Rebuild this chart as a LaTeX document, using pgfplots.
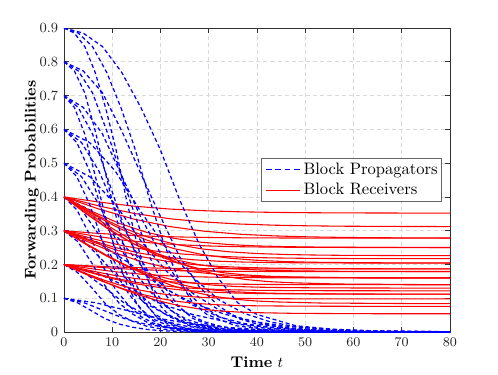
\documentclass[border=0pt]{standalone}
\usepackage{pgfplots}
\usepackage{pgfplotstable}
\pgfplotsset{compat=1.18}

% block propagators: three runs per start level, time columns ta/tb/tc
\pgfplotstableread{
ta     tb    tc    p1     p2     p3
0      0     0     0.1    0.2    0.3
6.67   4.21  2.86  0.0865 0.176  0.268
13.33  8.42  5.71  0.0631 0.132  0.206
20     12.63 8.57  0.0393 0.0843 0.136
26.67  16.84 11.43 0.0237 0.0519 0.0858
33.33  21.05 14.29 0.0142 0.0315 0.0528
40     25.26 17.14 0.0079 0.0175 0.0297
46.67  29.47 20    0.0043 0.0097 0.0165
53.33  33.68 22.86 0.0023 0.0052 0.0090
60     37.89 25.71 0.0012 0.0026 0.0045
66.67  42.11 28.57 0.0007 0.0015 0.0026
80     50.53 34.29 0.0002 0.0005 0.0009
93.33  58.95 40    0.0001 0.0002 0.0004
106.67 67.37 45.71 0      0.0001 0.0002
133.33 84.21 57.14 0      0      0
200    200   200   0      0      0
}\BA
\pgfplotstableread{
ta     tb    tc    p4     p5     p6
0      0     0     0.4    0.5    0.6
5.33   3.64  2.67  0.362  0.460  0.561
10.67  7.27  5.33  0.288  0.378  0.476
16     10.91 8     0.197  0.269  0.355
21.33  14.55 10.67 0.127  0.179  0.247
26.67  18.18 13.33 0.080  0.115  0.163
32     21.82 16    0.0454 0.0667 0.0967
37.33  25.45 18.67 0.0255 0.0377 0.0555
42.67  29.09 21.33 0.0139 0.0206 0.0306
48     32.73 24    0.0070 0.0105 0.0156
53.33  36.36 26.67 0.0041 0.0061 0.0091
64     43.64 32    0.0014 0.0021 0.0032
74.67  50.91 37.33 0.0006 0.0009 0.0014
85.33  58.18 42.67 0.0003 0.0004 0.0006
106.67 72.73 53.33 0.0001 0.0001 0.0002
200    200   200   0      0      0
}\BB
\pgfplotstableread{
ta  tb    tc    p7     p8     p9
0   0     0     0.7    0.8    0.9
4   2.96  2.16  0.665  0.773  0.885
8   5.93  4.32  0.586  0.708  0.845
12  8.89  6.49  0.462  0.595  0.768
16  11.85 8.65  0.338  0.467  0.663
20  14.81 10.81 0.233  0.342  0.539
24  17.78 12.97 0.143  0.222  0.391
28  20.74 15.14 0.0838 0.135  0.261
32  23.70 17.30 0.0469 0.0778 0.159
36  26.67 19.46 0.0241 0.0405 0.0868
40  29.63 21.62 0.0140 0.0238 0.052
48  35.56 25.95 0.0049 0.0085 0.0188
56  41.48 30.27 0.0021 0.0036 0.0081
64  47.41 34.59 0.0010 0.0016 0.0037
80  59.26 43.24 0.0002 0.0004 0.0009
200 200   200   0      0      0
}\BC

% block receivers (a: start 0.2, b: start 0.3, c: start 0.4)
\pgfplotstableread{
ta    tb    tc     a1     a2     a3     b1     b2     b3     c1     c2     c3
0     0     0      0.200  0.200  0.200  0.300  0.300  0.300  0.400  0.400  0.400
5.33  6.15  7.27   0.1959 0.1936 0.1882 0.2930 0.2847 0.2756 0.3848 0.3731 0.3641
10.67 12.31 14.55  0.1926 0.1883 0.1784 0.2874 0.2722 0.2552 0.3726 0.3511 0.3341
16    18.46 21.82  0.1903 0.1846 0.1713 0.2836 0.2634 0.2405 0.3642 0.3356 0.3125
21.33 24.62 29.09  0.1889 0.1823 0.1667 0.2813 0.2579 0.2309 0.3591 0.3258 0.2985
26.67 30.77 36.36  0.1881 0.1809 0.1638 0.2798 0.2545 0.2250 0.3560 0.3198 0.2897
32    36.92 43.64  0.1876 0.1800 0.1622 0.2790 0.2525 0.2215 0.3542 0.3163 0.2846
37.33 43.08 50.91  0.1873 0.1796 0.1612 0.2786 0.2514 0.2195 0.3532 0.3144 0.2817
42.67 49.23 58.18  0.1872 0.1793 0.1607 0.2783 0.2508 0.2184 0.3527 0.3133 0.2801
48    55.38 65.45  0.1871 0.1792 0.1604 0.2782 0.2505 0.2178 0.3524 0.3128 0.2792
53.33 61.54 72.73  0.1871 0.1791 0.1602 0.2781 0.2503 0.2175 0.3522 0.3124 0.2787
64    73.85 87.27  0.1870 0.1790 0.1601 0.2780 0.2501 0.2172 0.3521 0.3122 0.2782
85.33 98.46 116.36 0.187  0.179  0.160  0.278  0.250  0.217  0.352  0.312  0.278
200   200   200    0.187  0.179  0.160  0.278  0.250  0.217  0.352  0.312  0.278
}\RA
\pgfplotstableread{
ta  tb    tc    a4     a5     a6     b4     b5     b6     c4     c5     c6
0   0     0     0.200  0.200  0.200  0.300  0.300  0.300  0.400  0.400  0.400
5   5.33  5.71  0.1831 0.1793 0.1780 0.2730 0.2699 0.2650 0.3579 0.3537 0.3510
10  10.67 11.43 0.1688 0.1611 0.1584 0.2501 0.2436 0.2338 0.3220 0.3132 0.3073
15  16    17.14 0.1581 0.1471 0.1427 0.2329 0.2234 0.2089 0.2952 0.2820 0.2724
20  21.33 22.86 0.1509 0.1374 0.1313 0.2215 0.2094 0.1907 0.2773 0.2605 0.2469
25  26.67 28.57 0.1463 0.1310 0.1235 0.2141 0.2001 0.1783 0.2658 0.2462 0.2297
30  32    34.29 0.1435 0.1271 0.1186 0.2097 0.1945 0.1705 0.2589 0.2375 0.2187
35  37.33 40    0.1420 0.1249 0.1158 0.2072 0.1912 0.1660 0.2550 0.2324 0.2124
40  42.67 45.71 0.1411 0.1236 0.1141 0.2058 0.1894 0.1634 0.2529 0.2297 0.2087
45  48    51.43 0.1407 0.1229 0.1132 0.2051 0.1884 0.1620 0.2517 0.2281 0.2067
50  53.33 57.14 0.1404 0.1225 0.1128 0.2047 0.1878 0.1613 0.2511 0.2272 0.2058
60  64    68.57 0.1402 0.1222 0.1124 0.2043 0.1873 0.1606 0.2505 0.2265 0.2048
80  85.33 91.43 0.1401 0.1221 0.1121 0.2041 0.1871 0.1601 0.2502 0.2262 0.2042
200 200   200   0.140  0.122  0.112  0.204  0.187  0.160  0.250  0.226  0.204
}\RB
\pgfplotstableread{
ta  tb    tc    a7     a8     a9     b7     b8     b9     c7     c8     c9
0   0     0     0.200  0.200  0.200  0.300  0.300  0.300  0.400  0.400  0.400
4   4.44  4.71  0.1765 0.1745 0.1749 0.2609 0.2613 0.2628 0.3492 0.3506 0.3553
8   8.89  9.41  0.1551 0.1505 0.1507 0.2252 0.2250 0.2270 0.3028 0.3042 0.3121
12  13.33 14.12 0.1371 0.1294 0.1279 0.1951 0.1930 0.1933 0.2636 0.2634 0.2716
16  17.78 18.82 0.1234 0.1122 0.1077 0.1723 0.1669 0.1635 0.2340 0.2301 0.2357
20  22.22 23.53 0.1135 0.0991 0.0909 0.1558 0.1470 0.1386 0.2126 0.2046 0.2058
24  26.67 28.24 0.1071 0.0899 0.0778 0.1451 0.1331 0.1192 0.1987 0.1869 0.1824
28  31.11 32.94 0.1032 0.0842 0.0686 0.1387 0.1244 0.1056 0.1903 0.1758 0.1660
32  35.56 37.65 0.1010 0.0807 0.0628 0.1349 0.1191 0.0970 0.1854 0.1691 0.1556
36  40    42.35 0.0997 0.0787 0.0593 0.1329 0.1161 0.0918 0.1828 0.1653 0.1494
40  44.44 47.06 0.0991 0.0777 0.0574 0.1319 0.1146 0.0890 0.1814 0.1634 0.1460
48  53.33 56.47 0.0984 0.0767 0.0553 0.1307 0.1131 0.0859 0.1799 0.1614 0.1423
64  71.11 75.29 0.0981 0.0761 0.0543 0.1302 0.1122 0.0844 0.1792 0.1602 0.1405
200 200   200   0.098  0.076  0.054  0.130  0.112  0.084  0.179  0.160  0.140
}\RC

\tikzset{
  propline/.style={draw=blue, dash pattern=on 2.4pt off 1.7pt, line width=0.75pt},
  recvline/.style={draw=red, line width=0.65pt},
}

\begin{document}
\begin{tikzpicture}
\path (-38.6pt,-25.4pt) rectangle (262.1pt,200.5pt);
\begin{axis}[
  scale only axis, width=233.1pt, height=183.6pt,
  xmin=0, xmax=80, ymin=0, ymax=0.9,
  xtick={0,10,20,30,40,50,60,70,80},
  ytick={0,0.1,0.2,0.3,0.4,0.5,0.6,0.7,0.8,0.9},
  yticklabels={0,0.1,0.2,0.3,0.4,0.5,0.6,0.7,0.8,0.9},
  xtick pos=both, ytick pos=both, tick align=inside,
  major tick length=3pt,
  tick style={black!80, line width=0.4pt},
  axis line style={black!80, line width=0.5pt},
  grid=major, major grid style={black!15, dash pattern=on 2.5pt off 1.8pt, line width=0.4pt},
  ticklabel style={font=\fontsize{8.5}{10}\selectfont, text=black!85},
  xlabel={\textbf{Time} $t$},
  ylabel={\textbf{Forwarding Probabilities}},
  label style={font=\fontsize{9.4}{11}\selectfont},
  xlabel style={at={(axis description cs:0.5,-0.099)}, anchor=center},
  ylabel style={at={(axis description cs:-0.083,0.5)}, anchor=center},
  no markers,
]
\pgfplotsinvokeforeach{1,2,3}{
  \addplot[propline] table[x=ta, y=p#1]{\BA};
  \addplot[recvline] table[x=ta, y=a#1]{\RA};
  \addplot[propline] table[x=tb, y=p#1]{\BA};
  \addplot[recvline] table[x=tb, y=b#1]{\RA};
  \addplot[propline] table[x=tc, y=p#1]{\BA};
  \addplot[recvline] table[x=tc, y=c#1]{\RA};
}
\pgfplotsinvokeforeach{4,5,6}{
  \addplot[propline] table[x=ta, y=p#1]{\BB};
  \addplot[recvline] table[x=ta, y=a#1]{\RB};
  \addplot[propline] table[x=tb, y=p#1]{\BB};
  \addplot[recvline] table[x=tb, y=b#1]{\RB};
  \addplot[propline] table[x=tc, y=p#1]{\BB};
  \addplot[recvline] table[x=tc, y=c#1]{\RB};
}
\pgfplotsinvokeforeach{7,8,9}{
  \addplot[propline] table[x=ta, y=p#1]{\BC};
  \addplot[recvline] table[x=ta, y=a#1]{\RC};
  \addplot[propline] table[x=tb, y=p#1]{\BC};
  \addplot[recvline] table[x=tb, y=b#1]{\RC};
  \addplot[propline] table[x=tc, y=p#1]{\BC};
  \addplot[recvline] table[x=tc, y=c#1]{\RC};
}
\end{axis}
% legend box (axis south west is at the origin)
\draw[black!60, fill=white, line width=0.5pt] (119.4pt,78.7pt) rectangle (227.7pt,104.9pt);
\draw[blue, line width=0.75pt] (121.9pt,98.2pt) -- (125.4pt,98.2pt);
\draw[blue, line width=0.75pt] (127.6pt,98.2pt) -- (131.1pt,98.2pt);
\draw[blue, line width=0.75pt] (133.3pt,98.2pt) -- (136.8pt,98.2pt);
\draw[blue, line width=0.75pt] (139.0pt,98.2pt) -- (142.5pt,98.2pt);
\draw[recvline] (121.9pt,85.7pt) -- (142.5pt,85.7pt);
\node[anchor=base west, inner sep=0pt, font=\fontsize{10}{12}\selectfont] at (144.5pt,95.4pt) {Block Propagators};
\node[anchor=base west, inner sep=0pt, font=\fontsize{10}{12}\selectfont] at (144.5pt,83.0pt) {Block Receivers};
\end{tikzpicture}
\end{document}
